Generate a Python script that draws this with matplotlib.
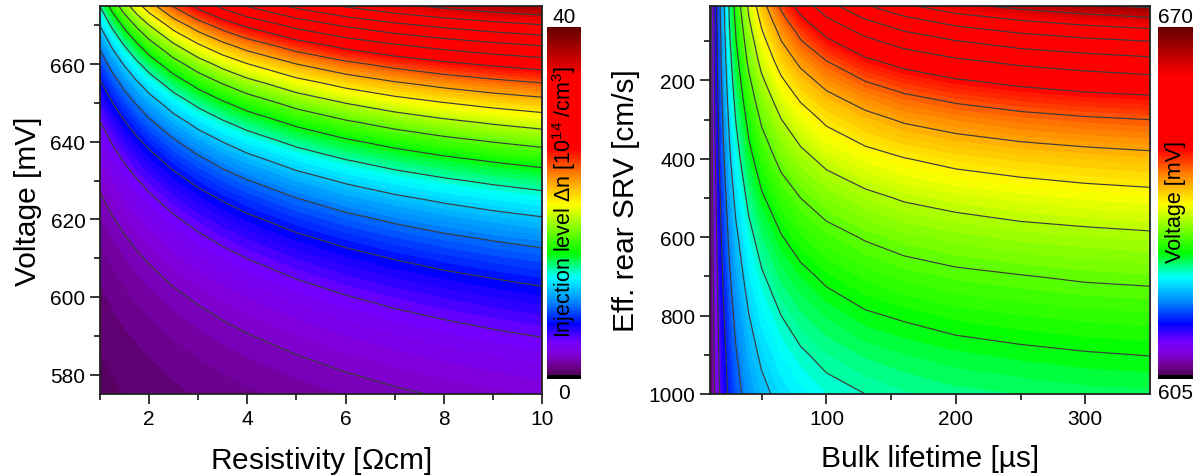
import numpy as np
import matplotlib
matplotlib.use("Agg")
import matplotlib.pyplot as plt
from matplotlib.colors import LinearSegmentedColormap, Normalize
from matplotlib.cm import ScalarMappable

plt.rcParams["font.family"] = ["Liberation Sans", "DejaVu Sans"]
plt.rcParams["mathtext.fontset"] = "custom"
plt.rcParams["mathtext.rm"] = "Liberation Sans"
plt.rcParams["mathtext.it"] = "Liberation Sans:italic"

# ---- left map: injection level (1e14 cm^-3) vs resistivity and voltage ----
rho_grid = [1, 1.25, 1.5, 1.75, 2, 2.5, 3, 3.5, 4, 5, 6, 7, 8, 9, 10]
volt_grid = [575, 580, 585, 590, 595, 600, 605, 610, 615, 620, 625,
             630, 635, 640, 645, 650, 655, 660, 665, 670, 675]
dn_table = [
    [0.27, 0.34, 0.41, 0.48, 0.55, 0.70, 0.84, 0.98, 1.11, 1.37, 1.62, 1.86, 2.08, 2.29, 2.48],
    [0.32, 0.41, 0.50, 0.58, 0.67, 0.84, 1.01, 1.18, 1.34, 1.65, 1.95, 2.22, 2.48, 2.71, 2.93],
    [0.39, 0.50, 0.60, 0.71, 0.81, 1.02, 1.22, 1.42, 1.62, 1.99, 2.33, 2.65, 2.94, 3.20, 3.45],
    [0.47, 0.60, 0.73, 0.86, 0.99, 1.24, 1.48, 1.72, 1.95, 2.38, 2.78, 3.15, 3.48, 3.78, 4.05],
    [0.58, 0.73, 0.89, 1.04, 1.19, 1.49, 1.79, 2.07, 2.34, 2.85, 3.31, 3.73, 4.10, 4.43, 4.73],
    [0.70, 0.89, 1.08, 1.26, 1.45, 1.81, 2.15, 2.49, 2.81, 3.40, 3.93, 4.40, 4.82, 5.19, 5.51],
    [0.85, 1.08, 1.30, 1.53, 1.75, 2.18, 2.59, 2.99, 3.36, 4.05, 4.65, 5.18, 5.64, 6.04, 6.40],
    [1.03, 1.31, 1.58, 1.85, 2.11, 2.63, 3.12, 3.58, 4.02, 4.80, 5.48, 6.07, 6.58, 7.02, 7.40],
    [1.25, 1.58, 1.91, 2.24, 2.55, 3.16, 3.74, 4.28, 4.78, 5.68, 6.44, 7.09, 7.65, 8.12, 8.53],
    [1.52, 1.92, 2.31, 2.70, 3.08, 3.80, 4.48, 5.11, 5.68, 6.69, 7.54, 8.25, 8.85, 9.37, 9.81],
    [1.84, 2.32, 2.80, 3.26, 3.71, 4.56, 5.35, 6.07, 6.73, 7.86, 8.80, 9.57, 10.22, 10.76, 11.23],
    [2.23, 2.81, 3.38, 3.93, 4.46, 5.46, 6.38, 7.20, 7.94, 9.20, 10.23, 11.06, 11.75, 12.33, 12.82],
    [2.70, 3.40, 4.08, 4.73, 5.36, 6.53, 7.57, 8.51, 9.34, 10.74, 11.85, 12.74, 13.47, 14.08, 14.59],
    [3.27, 4.10, 4.91, 5.68, 6.42, 7.77, 8.97, 10.02, 10.95, 12.47, 13.67, 14.62, 15.40, 16.03, 16.57],
    [3.95, 4.95, 5.91, 6.82, 7.68, 9.23, 10.59, 11.77, 12.78, 14.44, 15.72, 16.73, 17.54, 18.21, 18.76],
    [4.77, 5.96, 7.10, 8.16, 9.15, 10.93, 12.46, 13.76, 14.88, 16.67, 18.03, 19.09, 19.93, 20.62, 21.20],
    [5.76, 7.18, 8.51, 9.74, 10.89, 12.91, 14.61, 16.04, 17.25, 19.16, 20.60, 21.71, 22.59, 23.31, 23.89],
    [6.95, 8.62, 10.17, 11.60, 12.91, 15.18, 17.06, 18.62, 19.92, 21.97, 23.48, 24.63, 25.54, 26.28, 26.88],
    [8.36, 10.33, 12.13, 13.77, 15.26, 17.79, 19.85, 21.54, 22.94, 25.10, 26.68, 27.88, 28.82, 29.57, 30.19],
    [10.05, 12.35, 14.44, 16.30, 17.97, 20.78, 23.02, 24.84, 26.32, 28.59, 30.24, 31.48, 32.44, 33.22, 33.85],
    [12.06, 14.74, 17.12, 19.24, 21.10, 24.18, 26.60, 28.54, 30.11, 32.48, 34.19, 35.47, 36.46, 37.25, 37.89],
]

# ---- right map: voltage (mV) vs bulk lifetime and rear SRV ----
tau_grid = [10, 12, 14, 17, 20, 25, 30, 40, 50, 65, 80, 100, 130, 160, 200, 250, 300, 350]
srv_grid = [10, 20, 35, 50, 75, 100, 150, 200, 250, 300, 400, 500, 600, 700, 800, 900, 1000]
voc_table = [
    [606.1, 609.9, 613.1, 617.1, 620.3, 624.9, 628.9, 634.9, 639.5, 644.6, 648.6, 652.5, 656.6, 659.6, 662.4, 664.6, 666.2, 667.4],
    [606.1, 609.9, 613.1, 617.1, 620.2, 624.8, 628.7, 634.6, 639.1, 644.1, 648.0, 651.7, 655.7, 658.6, 661.2, 663.3, 664.8, 666.0],
    [606.0, 609.9, 613.0, 617.0, 620.1, 624.7, 628.5, 634.3, 638.6, 643.4, 647.1, 650.7, 654.5, 657.1, 659.6, 661.5, 662.9, 664.0],
    [606.0, 609.8, 612.9, 616.9, 620.1, 624.6, 628.3, 633.9, 638.1, 642.7, 646.3, 649.7, 653.2, 655.7, 658.0, 659.9, 661.2, 662.2],
    [605.9, 609.8, 612.8, 616.8, 619.9, 624.3, 627.9, 633.3, 637.3, 641.6, 644.9, 648.1, 651.4, 653.7, 655.7, 657.4, 658.6, 659.4],
    [605.8, 609.6, 612.7, 616.6, 619.7, 624.1, 627.6, 632.7, 636.5, 640.7, 643.8, 646.7, 649.7, 651.8, 653.6, 655.2, 656.2, 657.0],
    [605.7, 609.5, 612.6, 616.4, 619.4, 623.5, 626.8, 631.7, 635.2, 638.8, 641.5, 644.0, 646.7, 648.4, 650.0, 651.3, 652.2, 652.9],
    [605.5, 609.3, 612.3, 616.1, 619.0, 622.9, 626.1, 630.5, 633.8, 637.1, 639.5, 641.8, 644.1, 645.6, 647.0, 648.1, 648.9, 649.5],
    [605.4, 609.1, 612.1, 615.7, 618.6, 622.4, 625.3, 629.6, 632.5, 635.6, 637.7, 639.8, 641.8, 643.2, 644.4, 645.4, 646.1, 646.5],
    [605.3, 608.9, 611.9, 615.4, 618.2, 621.8, 624.6, 628.6, 631.4, 634.2, 636.1, 638.0, 639.8, 641.1, 642.1, 643.0, 643.6, 644.0],
    [605.1, 608.6, 611.4, 614.8, 617.4, 620.8, 623.3, 626.9, 629.3, 631.8, 633.4, 635.0, 636.4, 637.4, 638.3, 639.0, 639.5, 639.9],
    [604.8, 608.2, 610.8, 614.0, 616.5, 619.6, 622.0, 625.2, 627.4, 629.5, 631.0, 632.3, 633.6, 634.5, 635.2, 635.8, 636.3, 636.6],
    [604.6, 607.8, 610.4, 613.4, 615.7, 618.6, 620.7, 623.7, 625.7, 627.6, 628.9, 630.1, 631.2, 632.0, 632.6, 633.2, 633.5, 633.8],
    [604.5, 607.5, 609.9, 612.8, 614.9, 617.7, 619.7, 622.4, 624.2, 626.0, 627.1, 628.2, 629.2, 629.9, 630.5, 630.9, 631.3, 631.5],
    [604.3, 607.2, 609.5, 612.2, 614.3, 616.8, 618.7, 621.2, 622.9, 624.5, 625.6, 626.5, 627.5, 628.0, 628.6, 629.0, 629.3, 629.5],
    [604.1, 606.9, 609.1, 611.7, 613.6, 616.1, 617.8, 620.2, 621.7, 623.2, 624.2, 625.1, 625.9, 626.4, 626.9, 627.3, 627.6, 627.8],
    [604.0, 606.7, 608.8, 611.2, 613.1, 615.4, 617.0, 619.2, 620.6, 622.0, 622.9, 623.8, 624.5, 625.0, 625.5, 625.8, 626.1, 626.2],
]

# Origin-like rainbow palette
stops = [(0.0, (0.32, 0.0, 0.34)), (0.03, (0.45, 0.0, 0.62)), (0.06, (0.50, 0.0, 0.85)),
         (0.095, (0.45, 0.0, 1.0)), (0.145, (0.0, 0.0, 1.0)), (0.205, (0.0, 0.5, 1.0)),
         (0.28, (0.0, 1.0, 1.0)), (0.35, (0.0, 1.0, 0.0)), (0.49, (1.0, 1.0, 0.0)),
         (0.57, (1.0, 0.55, 0.0)), (0.65, (1.0, 0.0, 0.0)), (0.86, (1.0, 0.0, 0.0)),
         (1.0, (0.40, 0.0, 0.0))]
cmap = LinearSegmentedColormap.from_list("origin_rainbow", stops)
cmap.set_under(cmap(0.0))
cmap.set_over(cmap(1.0))

W, H = 1202, 477
fig = plt.figure(figsize=(W / 100, H / 100), dpi=100)


def px(x0, y0, x1, y1):
    return [x0 / W, 1 - y1 / H, (x1 - x0) / W, (y1 - y0) / H]


def panel(ax, cax, bax, x, y, z, vmin, vmax, n_fill, every, top_lbl, bot_lbl, cb_label, cb_fs):
    fill_lv = np.linspace(vmin, vmax, n_fill + 1)
    line_lv = fill_lv[every:-1:every]
    ax.contourf(x, y, z, levels=fill_lv, cmap=cmap, extend="both")
    ax.contour(x, y, z, levels=line_lv, colors="#3c3c3c", linewidths=0.85)
    cb = fig.colorbar(ScalarMappable(norm=Normalize(vmin, vmax), cmap=cmap), cax=cax, ticks=[])
    cb.outline.set_visible(False)
    bax.set_facecolor("black")
    bax.set_xticks([]); bax.set_yticks([])
    for sp in bax.spines.values():
        sp.set_visible(False)
    cax.text(0.5, 1.003, top_lbl, transform=cax.transAxes, ha="center", va="bottom", fontsize=15)
    cax.text(0.5, -0.022, bot_lbl, transform=cax.transAxes, ha="center", va="top", fontsize=15)
    cax.text(0.5, 0.5, cb_label, transform=cax.transAxes, rotation=90,
             ha="center", va="center", fontsize=cb_fs)
    for sp in ax.spines.values():
        sp.set_linewidth(1.3)
        sp.set_color("#222222")
    ax.tick_params(which="major", direction="out", length=7, width=1.1, labelsize=15)
    ax.tick_params(which="minor", direction="out", length=4, width=1.1)


ax1 = fig.add_axes(px(100, 7, 542, 395))
cax1 = fig.add_axes(px(547, 28, 581, 376))
bax1 = fig.add_axes(px(547, 376, 581, 380))
panel(ax1, cax1, bax1, rho_grid, volt_grid, np.array(dn_table), 0, 40, 100, 5, "40", "0",
      r"Injection level $\Delta$n [10$^{14}$ /cm$^{3}$]", 15.5)
ax1.set_xlim(1, 10); ax1.set_ylim(575, 675)
ax1.set_xticks([2, 4, 6, 8, 10]); ax1.set_xticks([1, 3, 5, 7, 9], minor=True)
ax1.set_yticks([580, 600, 620, 640, 660]); ax1.set_yticks([590, 610, 630, 650, 670], minor=True)
ax1.set_xlabel(r"Resistivity [$\Omega$cm]", fontsize=21.5, labelpad=12)
ax1.set_ylabel("Voltage [mV]", fontsize=21.5, labelpad=6)

ax2 = fig.add_axes(px(710, 7, 1150, 395))
cax2 = fig.add_axes(px(1158, 28, 1193, 376))
bax2 = fig.add_axes(px(1158, 376, 1193, 380))
panel(ax2, cax2, bax2, tau_grid, srv_grid, np.array(voc_table), 605, 670, 100, 5, "670", "605",
      "Voltage [mV]", 15.5)
ax2.set_xlim(10, 350); ax2.set_ylim(1000, 10)
ax2.set_xticks([100, 200, 300]); ax2.set_xticks([50, 150, 250], minor=True)
ax2.set_yticks([200, 400, 600, 800, 1000]); ax2.set_yticks([100, 300, 500, 700, 900], minor=True)
ax2.set_xlabel("Bulk lifetime [µs]", fontsize=21.5, labelpad=12)
ax2.set_ylabel("Eff. rear SRV [cm/s]", fontsize=21.5, labelpad=6)

fig.savefig("out.png", dpi=100)
